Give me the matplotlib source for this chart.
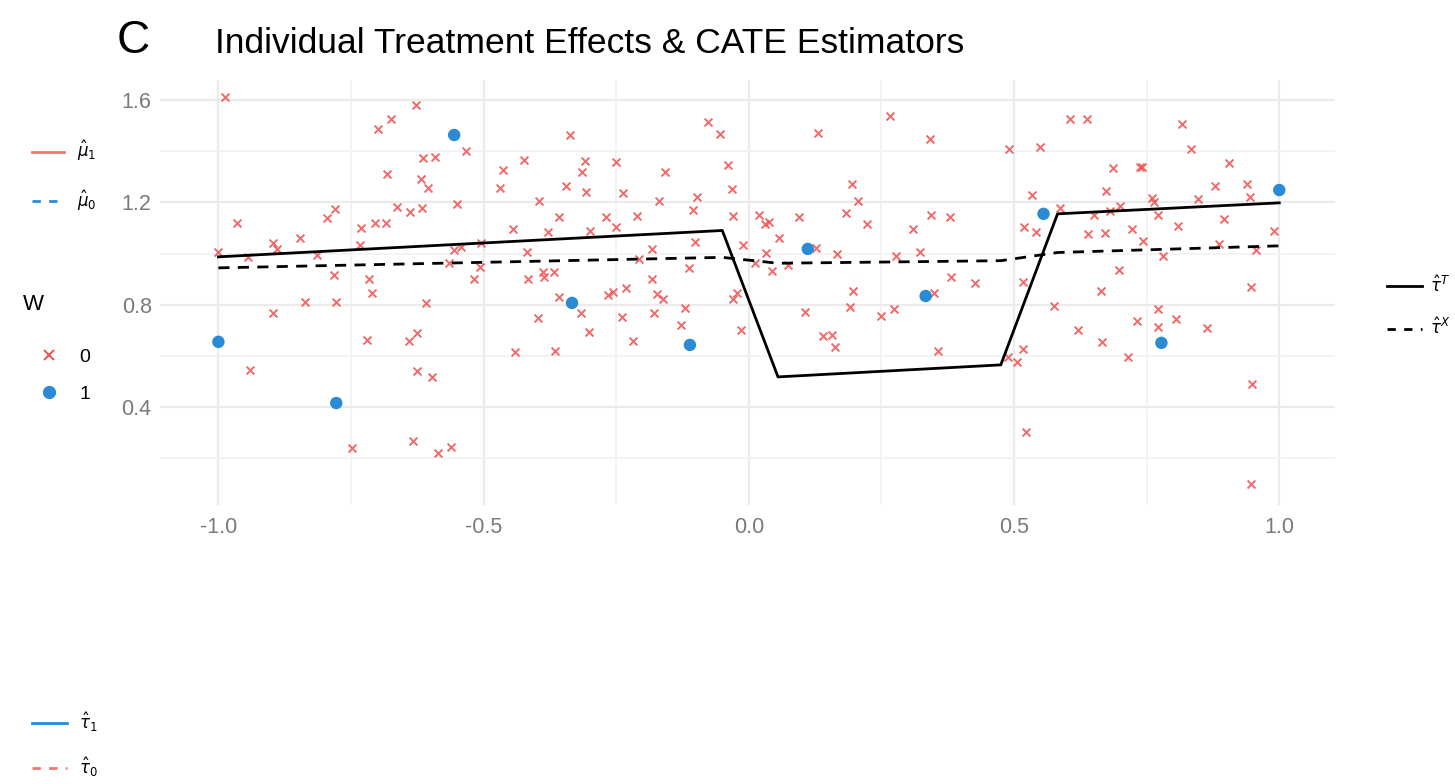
import numpy as np
import matplotlib
matplotlib.use('Agg')
import matplotlib.pyplot as plt
from matplotlib.lines import Line2D

plt.rcParams['font.family'] = ['Liberation Sans', 'DejaVu Sans']
plt.rcParams['mathtext.fontset'] = 'dejavusans'

# treated units (W = 1)
x_treat = np.linspace(-1, 1, 10)
y_treat = [0.655, 0.416, 1.463, 0.807, 0.643, 1.018, 0.834, 1.155, 0.651, 1.248]

# control units (W = 0)
ctrl_pts = [
    (-0.987, 1.612), (-0.627, 1.58), (-0.70, 1.487), (-0.674, 1.526), (-0.614, 1.373),
    (-0.591, 1.377), (-0.682, 1.311), (-0.618, 1.29), (-0.605, 1.256), (-0.55, 1.194),
    (-0.964, 1.12), (-0.795, 1.139), (-0.78, 1.174), (-0.731, 1.10), (-0.704, 1.12),
    (-0.684, 1.12), (-0.663, 1.182), (-0.638, 1.162), (-0.616, 1.178), (-1.0, 1.006),
    (-0.945, 0.987), (-0.898, 1.041), (-0.889, 1.018), (-0.847, 1.061), (-0.815, 0.995),
    (-0.733, 1.034), (-0.556, 1.014), (-0.565, 0.963), (-0.783, 0.916), (-0.716, 0.90),
    (-0.71, 0.846), (-0.836, 0.811), (-0.778, 0.811), (-0.898, 0.768), (-0.608, 0.807),
    (-0.72, 0.663), (-0.64, 0.659), (-0.625, 0.69), (-0.94, 0.545), (-0.625, 0.541),
    (-0.597, 0.518), (-0.748, 0.241), (-0.633, 0.268), (-0.586, 0.221), (-0.561, 0.245),
    (-0.533, 1.40), (-0.337, 1.463), (-0.077, 1.514), (-0.055, 1.467), (-0.463, 1.327),
    (-0.424, 1.366), (-0.309, 1.362), (-0.315, 1.319), (-0.25, 1.358), (-0.158, 1.319),
    (-0.04, 1.346), (-0.469, 1.256), (-0.345, 1.264), (-0.307, 1.241), (-0.237, 1.237),
    (-0.032, 1.252), (-0.395, 1.205), (-0.169, 1.205), (-0.098, 1.221), (-0.105, 1.17),
    (-0.358, 1.143), (-0.269, 1.143), (-0.211, 1.147), (-0.03, 1.147), (-0.444, 1.096),
    (-0.379, 1.084), (-0.30, 1.088), (-0.25, 1.104), (-0.102, 1.045), (-0.542, 1.026),
    (-0.505, 1.041), (-0.418, 1.006), (-0.183, 1.018), (-0.207, 0.979), (-0.507, 0.948),
    (-0.518, 0.90), (-0.416, 0.90), (-0.388, 0.928), (-0.386, 0.909), (-0.367, 0.928),
    (-0.113, 0.944), (-0.183, 0.90), (-0.358, 0.83), (-0.266, 0.838), (-0.256, 0.85),
    (-0.232, 0.866), (-0.173, 0.842), (-0.162, 0.823), (-0.03, 0.823), (-0.023, 0.846),
    (-0.316, 0.768), (-0.397, 0.748), (-0.239, 0.752), (-0.179, 0.768), (-0.121, 0.788),
    (-0.128, 0.721), (-0.301, 0.694), (-0.218, 0.659), (-0.44, 0.616), (-0.365, 0.62),
    (-0.015, 0.702),
    (0.13, 1.471), (0.267, 1.537), (0.341, 1.448), (0.49, 1.409), (0.194, 1.272),
    (0.205, 1.205), (0.019, 1.151), (0.03, 1.116), (0.038, 1.123), (0.094, 1.143),
    (0.183, 1.159), (0.222, 1.116), (0.309, 1.096), (0.343, 1.151), (0.379, 1.143),
    (-0.011, 1.034), (0.056, 1.061), (0.126, 1.022), (0.032, 1.002), (0.166, 0.998),
    (0.277, 0.991), (0.322, 1.006), (0.011, 0.963), (0.043, 0.932), (0.073, 0.955),
    (0.382, 0.909), (0.426, 0.885), (0.196, 0.854), (0.35, 0.846), (0.105, 0.772),
    (0.19, 0.791), (0.249, 0.756), (0.273, 0.784), (0.139, 0.678), (0.156, 0.682),
    (0.162, 0.635), (0.356, 0.62), (0.488, 0.596), (0.505, 0.577),
    (0.606, 1.526), (0.637, 1.526), (0.817, 1.506), (0.548, 1.416), (0.834, 1.409),
    (0.687, 1.334), (0.738, 1.338), (0.741, 1.338), (0.906, 1.354), (0.674, 1.245),
    (0.879, 1.264), (0.94, 1.272), (0.533, 1.229), (0.761, 1.217), (0.763, 1.202),
    (0.846, 1.213), (0.944, 1.221), (0.586, 1.178), (0.65, 1.151), (0.68, 1.166),
    (0.70, 1.186), (0.772, 1.151), (0.518, 1.104), (0.542, 1.084), (0.64, 1.077),
    (0.672, 1.08), (0.723, 1.096), (0.744, 1.049), (0.81, 1.108), (0.895, 1.135),
    (0.991, 1.088), (0.78, 0.991), (0.887, 1.037), (0.957, 1.014), (0.697, 0.936),
    (0.516, 0.889), (0.663, 0.854), (0.947, 0.87), (0.576, 0.795), (0.772, 0.784),
    (0.731, 0.737), (0.806, 0.745), (0.772, 0.713), (0.62, 0.702), (0.864, 0.709),
    (0.665, 0.655), (0.714, 0.596), (0.516, 0.627), (0.949, 0.491), (0.523, 0.303),
    (0.947, 0.10),
]
x_ctrl = [p[0] for p in ctrl_pts]
y_ctrl = [p[1] for p in ctrl_pts]

# CATE estimators
tauT_x = [-1.0, -0.05, 0.055, 0.475, 0.582, 1.0]
tauT_y = [0.987, 1.09, 0.518, 0.565, 1.155, 1.198]
tauX_x = [-1.0, -0.05, 0.055, 0.475, 0.582, 1.0]
tauX_y = [0.944, 0.985, 0.962, 0.972, 1.004, 1.03]

xticks = [-1.0, -0.5, 0.0, 0.5, 1.0]
xtick_labels = ['-1.0', '-0.5', '0.0', '0.5', '1.0']
yticks = [0.4, 0.8, 1.2, 1.6]

red = '#F0504F'
blue = '#2B8AD4'
pink = '#F8766D'

fig = plt.figure(figsize=(14.55, 7.84), dpi=100)
ax = fig.add_axes([0.110, 0.356, 0.8075, 0.542])

ax.scatter(x_ctrl, y_ctrl, marker='x', s=32, color=red, linewidths=1.4, alpha=0.85, zorder=3)
ax.scatter(x_treat, y_treat, marker='o', s=80, color=blue, edgecolors='none', zorder=4)
ax.plot(tauT_x, tauT_y, color='black', lw=2.0, zorder=5)
ax.plot(tauX_x, tauX_y, color='black', lw=2.0, ls=(0, (4, 3)), zorder=5)

ax.set_xlim(-1.11, 1.105)
ax.set_ylim(0.018, 1.678)
ax.set_xticks(xticks)
ax.set_xticklabels(xtick_labels)
ax.set_xticks([-0.75, -0.25, 0.25, 0.75], minor=True)
ax.set_yticks(yticks)
ax.set_yticks([0.2, 0.6, 1.0, 1.4], minor=True)
ax.grid(which='major', color='#EBEBEB', lw=1.6, zorder=0)
ax.grid(which='minor', color='#F2F2F2', lw=1.3, zorder=0)
for s in ax.spines.values():
    s.set_visible(False)
ax.tick_params(which='both', length=0)
ax.tick_params(axis='y', labelsize=15.5, labelcolor='#7a7a7a', pad=6)
ax.tick_params(axis='x', labelsize=15.5, labelcolor='#7a7a7a', pad=9)

fig.text(0.080, 0.948, 'C', fontsize=33, va='center', ha='left')
fig.text(0.148, 0.944, 'Individual Treatment Effects & CATE Estimators', fontsize=25.5, va='center', ha='left')

# legends
mu_handles = [Line2D([], [], color=pink, lw=2.0), Line2D([], [], color=blue, lw=2.0, ls=(0, (3, 3)))]
fig.legend(mu_handles, [r'$\hat{\mu}_1$', r'$\hat{\mu}_0$'], loc='upper left',
           bbox_to_anchor=(0.012, 0.842), frameon=False, fontsize=12,
           handlelength=1.9, handletextpad=0.8, labelspacing=1.5)

fig.text(0.016, 0.611, 'W', fontsize=16, va='center', ha='left')
w_handles = [Line2D([], [], color=red, marker='x', ls='none', ms=6.5, mew=1.4),
             Line2D([], [], color=blue, marker='o', ls='none', ms=8.5)]
fig.legend(w_handles, ['0', '1'], loc='upper left',
           bbox_to_anchor=(0.008, 0.578), frameon=False, fontsize=14,
           handletextpad=0.6, labelspacing=1.0)

tau_handles = [Line2D([], [], color='black', lw=2.0), Line2D([], [], color='black', lw=2.0, ls=(0, (3, 3)))]
fig.legend(tau_handles, [r'$\hat{\tau}^T$', r'$\hat{\tau}^X$'], loc='upper left',
           bbox_to_anchor=(0.943, 0.669), frameon=False, fontsize=12,
           handlelength=2.1, handletextpad=0.5, labelspacing=1.3)

tau01_handles = [Line2D([], [], color=blue, lw=2.0), Line2D([], [], color=pink, lw=2.0, ls=(0, (3, 3)))]
fig.legend(tau01_handles, [r'$\hat{\tau}_1$', r'$\hat{\tau}_0$'], loc='upper left',
           bbox_to_anchor=(0.012, 0.113), frameon=False, fontsize=12,
           handlelength=2.1, handletextpad=0.7, labelspacing=1.3)

fig.savefig('out.png', dpi=100, facecolor='white')
